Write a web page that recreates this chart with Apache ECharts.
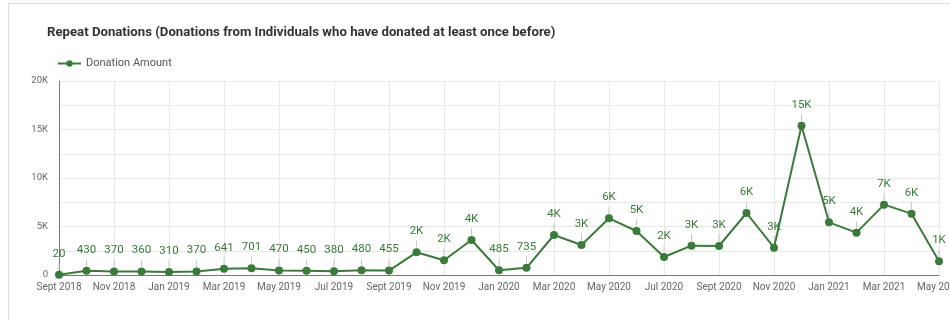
<!DOCTYPE html>
<html>
<head>
<meta charset="utf-8">
<script src="https://cdn.jsdelivr.net/npm/echarts@6/dist/echarts.min.js"></script>
<style>
html,body{margin:0;padding:0;background:#fff;}
#card{position:absolute;left:8px;top:3px;width:1000px;height:400px;border-left:1px solid #dcdcdc;border-top:1px solid #dcdcdc;}
#chart{position:absolute;left:0;top:0;width:950px;height:320px;}
</style>
</head>
<body>
<div id="card"></div>
<div id="chart"></div>
<script>
const categories = ['Sept 2018','Oct 2018','Nov 2018','Dec 2018','Jan 2019','Feb 2019','Mar 2019','Apr 2019','May 2019','Jun 2019','Jul 2019','Aug 2019','Sept 2019','Oct 2019','Nov 2019','Dec 2019','Jan 2020','Feb 2020','Mar 2020','Apr 2020','May 2020','Jun 2020','Jul 2020','Aug 2020','Sept 2020','Oct 2020','Nov 2020','Dec 2020','Jan 2021','Feb 2021','Mar 2021','Apr 2021','May 2021'];
const donationAmount = [20,430,370,360,310,370,641,701,470,450,380,480,455,2340,1515,3608,485,735,4124,3093,5842,4536,1856,3024,2990,6392,2818,15395,5430,4364,7251,6323,1409];
const yTickLabels = {0:'0',5000:'5K',10000:'10K',15000:'15K',20000:'20K'};

const green = '#3b7a3b';
function fmt(v){ return v < 1000 ? String(v) : Math.round(v/1000) + 'K'; }

const chart = echarts.init(document.getElementById('chart'));
chart.setOption({
  animation:false,
  textStyle:{fontFamily:'Roboto'},
  title:{
    text:'Repeat Donations (Donations from Individuals who have donated at least once before)',
    left:42, top:21,
    textStyle:{fontFamily:'Roboto',fontSize:13.2,fontWeight:'bold',color:'#333'}
  },
  legend:{
    data:['Donation Amount'],
    left:52, top:53,
    itemWidth:23, itemHeight:8, itemGap:8,
    textStyle:{fontFamily:'Roboto',fontSize:11,color:'#555'}
  },
  grid:{left:59,right:11,top:81,bottom:45,containLabel:false,outerBoundsMode:'none'},
  xAxis:{
    type:'category',
    data:categories,
    boundaryGap:false,
    axisLine:{lineStyle:{color:'#777',width:1}},
    axisTick:{show:false},
    axisLabel:{interval:1,color:'#666',fontSize:10,margin:7,fontFamily:'Roboto'},
    splitLine:{show:true,interval:1,lineStyle:{color:'#e8e8e8'}}
  },
  yAxis:{
    type:'value',
    min:0,max:20000,interval:2500,
    axisLine:{show:true,lineStyle:{color:'#777',width:1}},
    axisTick:{show:false},
    axisLabel:{color:'#666',fontSize:9.5,margin:11,fontFamily:'Roboto',
      formatter:function(v){ return yTickLabels[v] !== undefined ? yTickLabels[v] : ''; }},
    splitLine:{lineStyle:{color:'#e8e8e8'}}
  },
  series:[
    {
      name:'leader',
      type:'line',
      data:donationAmount,
      silent:true,
      symbol:'rect',
      symbolSize:[1,7],
      symbolOffset:[0,-8],
      showSymbol:true,
      lineStyle:{opacity:0},
      itemStyle:{color:'#c8c8c8'},
      z:1
    },
    {
      name:'Donation Amount',
      type:'line',
      data:donationAmount,
      symbol:'circle',
      symbolSize:8,
      showSymbol:true,
      lineStyle:{color:green,width:2},
      itemStyle:{color:green},
      label:{show:true,position:'top',distance:11,color:green,fontSize:11.5,fontFamily:'Roboto',
        formatter:function(p){ return fmt(p.value); }},
      z:3
    }
  ]
});
</script>
</body>
</html>
